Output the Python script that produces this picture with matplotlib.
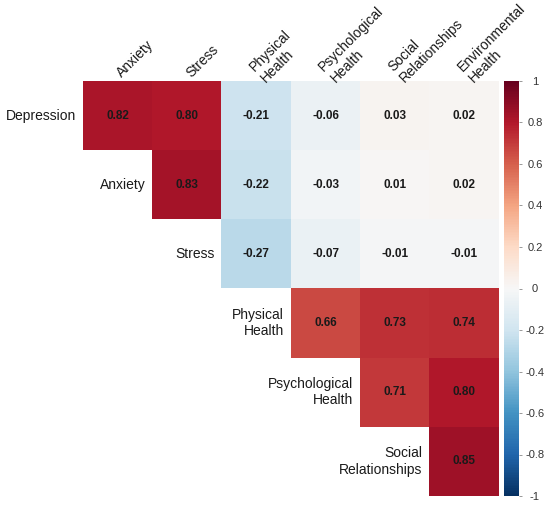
import numpy as np
import matplotlib
matplotlib.use("Agg")
import matplotlib.pyplot as plt
from matplotlib.ticker import FuncFormatter

plt.rcParams['font.family'] = ['Liberation Sans', 'DejaVu Sans']

row_labels = ["Depression", "Anxiety", "Stress", "Physical\nHealth",
              "Psychological\nHealth", "Social\nRelationships"]
col_labels = ["Anxiety", "Stress", "Physical\nHealth", "Psychological\nHealth",
              "Social\nRelationships", "Environmental\nHealth"]

depression = [0.82, 0.80, -0.21, -0.06, 0.03, 0.02]
anxiety = [None, 0.83, -0.22, -0.03, 0.01, 0.02]
stress = [None, None, -0.27, -0.07, -0.01, -0.01]
physical = [None, None, None, 0.66, 0.73, 0.74]
psychological = [None, None, None, None, 0.71, 0.80]
social = [None, None, None, None, None, 0.85]

rows = [depression, anxiety, stress, physical, psychological, social]
M = np.array([[np.nan if v is None else v for v in r] for r in rows], dtype=float)
Mm = np.ma.masked_invalid(M)

fig = plt.figure(figsize=(5.5, 5.09), dpi=100)
W, H = 550, 509
ax = fig.add_axes([83 / W, 1 - 496 / H, 416 / W, 415 / H])
cmap = plt.get_cmap('RdBu_r').copy()
cmap.set_bad((1, 1, 1, 0))
im = ax.imshow(Mm, cmap=cmap, vmin=-1, vmax=1, aspect='auto', interpolation='nearest')
ax.set_xlim(-0.5, 5.5)
ax.set_ylim(5.5, -0.5)
ax.axis('off')

nr, nc = M.shape
for i in range(nr):
    for j in range(nc):
        if not np.isnan(M[i, j]):
            ax.text(j, i, f"{M[i, j]:.2f}", ha='center', va='center',
                    fontsize=8.5, fontweight='bold', color='#1a1a1a')

# row labels placed left of first filled cell
for i, lab in enumerate(row_labels):
    first = int(np.where(~np.isnan(M[i]))[0][0])
    ax.text(first - 0.5 - 0.1, i, lab, ha='right', va='center',
            fontsize=10, color='#1a1a1a', multialignment='right')

# column labels rotated 45 at the top
for j, lab in enumerate(col_labels):
    ax.text(j + 0.02, -0.5 - 0.09, lab, ha='left', va='center',
            rotation=45, rotation_mode='anchor', fontsize=10,
            color='#1a1a1a', multialignment='left', clip_on=False)

cax = fig.add_axes([504 / W, 1 - 496 / H, 15 / W, 415 / H])
cb = fig.colorbar(im, cax=cax, ticks=np.linspace(-1, 1, 11))
cb.outline.set_visible(False)
cb.ax.yaxis.set_major_formatter(FuncFormatter(lambda v, p: f"{round(v, 1):g}"))
cb.ax.tick_params(axis='y', length=2.5, width=0.6, color='#888888',
                  labelsize=8, labelcolor='#333333', pad=9)
for t in cb.ax.get_yticklabels():
    t.set_horizontalalignment('center')

fig.savefig("out.png", dpi=100)
